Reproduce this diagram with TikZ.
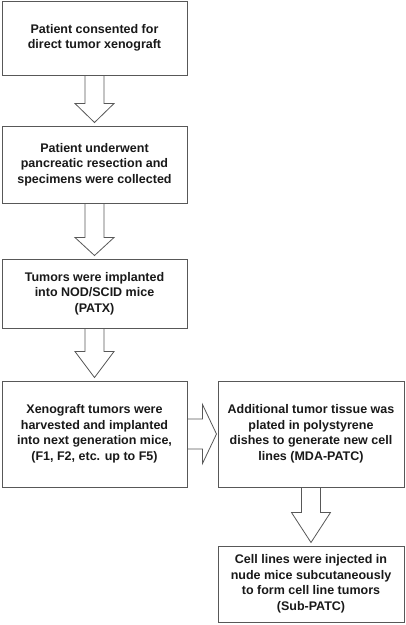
\documentclass[tikz,border=0pt]{standalone}
\usepackage{fontspec}
\setmainfont{Liberation Sans}
\usepackage{xcolor}
\usetikzlibrary{calc}
\definecolor{edgegray}{RGB}{88,88,88}
\definecolor{textgray}{RGB}{25,25,25}

% hollow block arrow pointing down: from node, to node, head length
\newcommand{\blockdown}[3]{%
  \draw[blockarrow] ($(#1.south)+(-9.5,0)$) -- ($(#2.north)+(-9.5,-3-#3)$)
    -- ($(#2.north)+(-19.5,-3-#3)$) -- ($(#2.north)+(0,-3)$)
    -- ($(#2.north)+(19.5,-3-#3)$) -- ($(#2.north)+(9.5,-3-#3)$)
    -- ($(#1.south)+(9.5,0)$);}

\begin{document}
\begin{tikzpicture}[
    x=1pt, y=-1pt,
    box/.style={draw=edgegray, line width=1pt, minimum width=185pt, align=center,
                inner sep=2pt, text=textgray, font=\fontsize{12.5}{15.5}\selectfont\bfseries},
    blockarrow/.style={draw=edgegray, line width=0.8pt, line join=miter},
]
\path[fill=white, use as bounding box] (0,0) rectangle (406,625);

% ─────────────────────────────────────────
% LEFT COLUMN: patient to xenograft
% ─────────────────────────────────────────
\node[box, minimum height=74pt] (consent) at (94.5, 38)
    {Patient consented for\\direct tumor xenograft};
\node[box, minimum height=77pt] (resect) at (94.5, 164.5)
    {Patient underwent\\pancreatic resection and\\specimens were collected};
\node[box, minimum height=69pt] (patx) at (94.5, 293.5)
    {Tumors were implanted\\into NOD/SCID mice\\(PATX)};
\node[box, minimum height=106pt] (passage) at (94.5, 434)
    {Xenograft tumors were\\harvested and implanted\\into next generation mice,\\(F1, F2, etc. up to F5)};

\blockdown{consent}{resect}{19}
\blockdown{resect}{patx}{18}
\blockdown{patx}{passage}{26}

% ─────────────────────────────────────────
% RIGHT COLUMN: cell lines
% ─────────────────────────────────────────
\node[box, minimum width=186pt, minimum height=106pt] (plating) at (311, 434)
    {Additional tumor tissue was\\plated in polystyrene\\dishes to generate new cell\\lines (MDA-PATC)};
\node[box, minimum width=186pt, minimum height=76pt] (subpatc) at (311, 584)
    {Cell lines were injected in\\nude mice subcutaneously\\to form cell line tumors\\(Sub-PATC)};

% sideways arrow between the columns
\draw[blockarrow] ($(passage.east)+(0,-15)$) -- ($(plating.west)+(-15,-15)$)
    -- ($(plating.west)+(-15,-29.5)$) -- ($(plating.west)+(-1,0)$)
    -- ($(plating.west)+(-15,29.5)$) -- ($(plating.west)+(-15,15)$)
    -- ($(passage.east)+(0,15)$);

\blockdown{plating}{subpatc}{30}

\end{tikzpicture}
\end{document}
